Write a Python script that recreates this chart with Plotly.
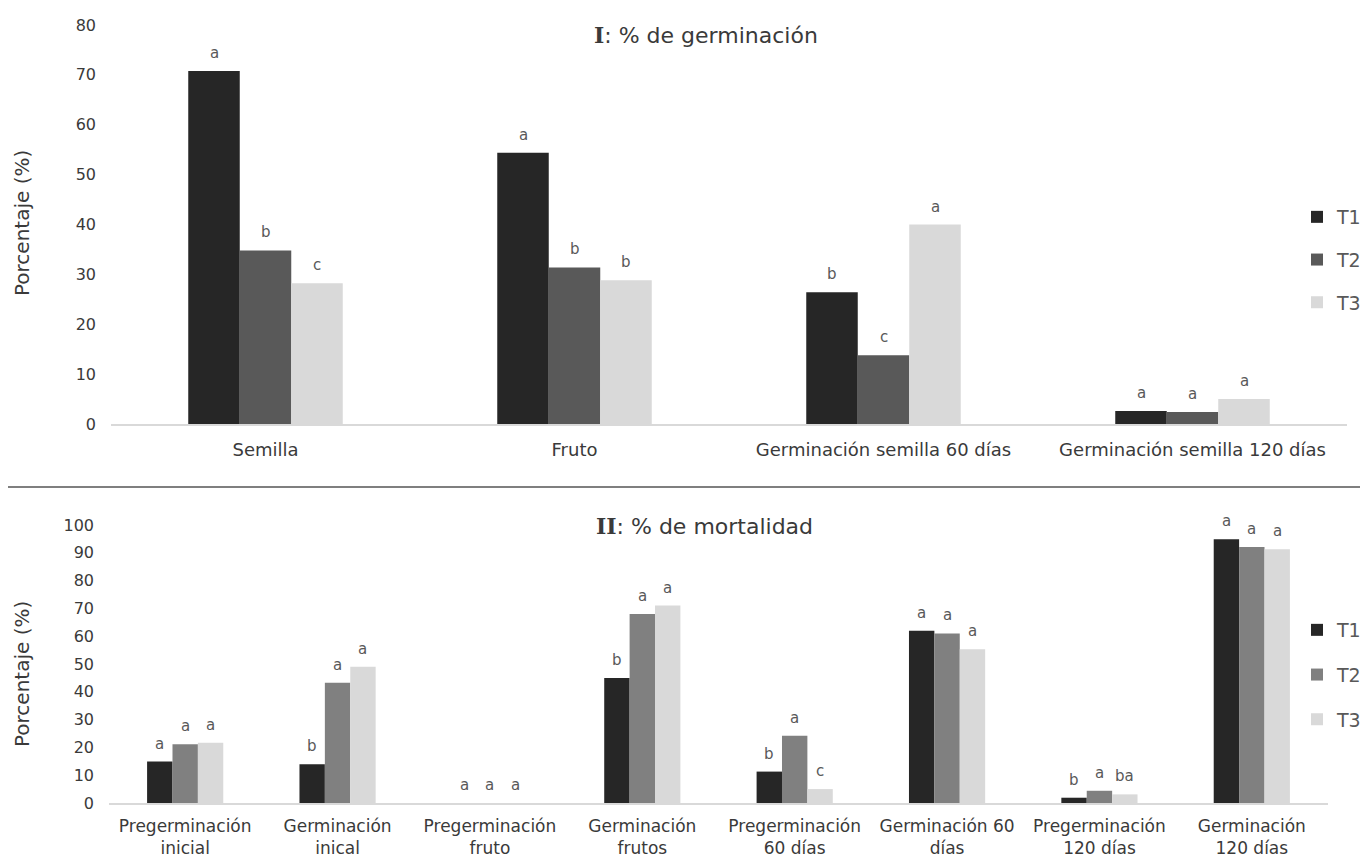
import plotly.graph_objects as go

# ---------------- data ----------------
series = ["T1", "T2", "T3"]

cats_top = ["Semilla", "Fruto", "Germinación semilla 60 días", "Germinación semilla 120 días"]
top_t1 = [70.8, 54.4, 26.4, 2.6]
top_t2 = [34.8, 31.4, 13.8, 2.4]
top_t3 = [28.2, 28.8, 40.0, 5.0]
top_let_t1 = ["a", "a", "b", "a"]
top_let_t2 = ["b", "b", "c", "a"]
top_let_t3 = ["c", "b", "a", "a"]

cats_bot = ["Pregerminación<br>inicial", "Germinación<br>inical", "Pregerminación<br>fruto",
            "Germinación<br>frutos", "Pregerminación<br>60 días", "Germinación 60<br>días",
            "Pregerminación<br>120 días", "Germinación<br>120 días"]
bot_t1 = [14.9, 13.9, 0, 45.0, 11.3, 62.0, 1.9, 94.9]
bot_t2 = [21.1, 43.3, 0, 68.0, 24.2, 61.0, 4.4, 92.1]
bot_t3 = [21.7, 49.0, 0, 71.0, 5.0, 55.3, 3.1, 91.3]
bot_let_t1 = ["a", "b", "a", "b", "b", "a", "b", "a"]
bot_let_t2 = ["a", "a", "a", "a", "a", "a", "a", "a"]
bot_let_t3 = ["a", "a", "a", "a", "c", "a", "ba", "a"]

top_ticks = [0, 10, 20, 30, 40, 50, 60, 70, 80]
bot_ticks = [0, 10, 20, 30, 40, 50, 60, 70, 80, 90, 100]

# ---------------- style ----------------
FONT = "DejaVu Sans"
TXT = "#3a3a3a"
top_colors = ["#262626", "#595959", "#d9d9d9"]
bot_colors = ["#262626", "#808080", "#d9d9d9"]
BARGAP = 0.5

# page body has an 8px margin: the figure is drawn at (8, 8)
OFF = 8
W, H = 1368 - OFF, 859 - OFF
def px_x(p):
    return (p - OFF) / W
def px_y(p):
    return 1 - (p - OFF) / H

fig = go.Figure()

top_vals = [top_t1, top_t2, top_t3]
bot_vals = [bot_t1, bot_t2, bot_t3]
top_lets = [top_let_t1, top_let_t2, top_let_t3]
bot_lets = [bot_let_t1, bot_let_t2, bot_let_t3]

for i, s in enumerate(series):
    fig.add_trace(go.Bar(x=cats_top, y=top_vals[i], name=s, marker_color=top_colors[i],
                         marker_line_width=0, xaxis="x", yaxis="y",
                         legend="legend", legendgroup="a" + s))
for i, s in enumerate(series):
    fig.add_trace(go.Bar(x=cats_bot, y=bot_vals[i], name=s, marker_color=bot_colors[i],
                         marker_line_width=0, xaxis="x2", yaxis="y2",
                         legend="legend2", legendgroup="b" + s))

annotations = []
w = (1 - BARGAP) / 3
lab_font = dict(family=FONT, size=15, color="#595959")
for i in range(3):
    for j, c in enumerate(cats_top):
        annotations.append(dict(x=j + (i - 1) * w, y=top_vals[i][j], xref="x", yref="y",
                                text=top_lets[i][j], showarrow=False, yshift=18,
                                yanchor="middle", font=lab_font))
    for j, c in enumerate(cats_bot):
        annotations.append(dict(x=j + (i - 1) * w, y=bot_vals[i][j], xref="x2", yref="y2",
                                text=bot_lets[i][j], showarrow=False, yshift=18,
                                yanchor="middle", font=lab_font))

title_font = dict(family=FONT, size=22, color=TXT)
annotations.append(dict(x=px_x(706), y=px_y(35), xref="paper", yref="paper", showarrow=False,
                        text="<span style='font-family:DejaVu Serif;font-weight:bold'>I</span>: % de germinación",
                        font=title_font, xanchor="center", yanchor="middle"))
annotations.append(dict(x=px_x(704), y=px_y(526), xref="paper", yref="paper", showarrow=False,
                        text="<span style='font-family:DejaVu Serif;font-weight:bold'>II</span>: % de mortalidad",
                        font=title_font, xanchor="center", yanchor="middle"))
ytitle_font = dict(family=FONT, size=20, color=TXT)
annotations.append(dict(x=px_x(22), y=px_y(223), xref="paper", yref="paper", showarrow=False,
                        text="Porcentaje (%)", textangle=-90,
                        font=ytitle_font, xanchor="center", yanchor="middle"))
annotations.append(dict(x=px_x(22), y=px_y(674), xref="paper", yref="paper", showarrow=False,
                        text="Porcentaje (%)", textangle=-90,
                        font=ytitle_font, xanchor="center", yanchor="middle"))

axis_common = dict(showgrid=False, zeroline=False, ticks="", automargin=False, showline=False,
                   ticklabelstandoff=14, tickfont=dict(family=FONT, size=16, color=TXT))
xline = dict(showline=True, linecolor="#d9d9d9", linewidth=1.5, ticks="", showgrid=False,
             zeroline=False, automargin=False)

leg_font = dict(family=FONT, size=19, color="#595959")

fig.update_layout(
    width=W, height=H,
    margin=dict(l=0, r=0, t=0, b=0, pad=0, autoexpand=False),
    paper_bgcolor="white", plot_bgcolor="white",
    barmode="group", bargap=BARGAP, bargroupgap=0,
    font=dict(family=FONT, color=TXT),
    xaxis=dict(domain=[px_x(111), px_x(1347)], anchor="y", ticklabelstandoff=9,
               tickfont=dict(family=FONT, size=18, color=TXT), **xline),
    yaxis=dict(domain=[px_y(424), px_y(25)], anchor="x", range=[0, 80], tickvals=top_ticks,
               **axis_common),
    xaxis2=dict(domain=[px_x(109), px_x(1328)], anchor="y2", ticklabelstandoff=7,
                tickfont=dict(family=FONT, size=17, color=TXT), **xline),
    yaxis2=dict(domain=[px_y(803), px_y(525)], anchor="x2", range=[0, 100], tickvals=bot_ticks,
                **axis_common),
    legend=dict(x=px_x(1297), y=px_y(260), xanchor="left", yanchor="middle",
                font=leg_font, tracegroupgap=15, bgcolor="rgba(0,0,0,0)"),
    legend2=dict(x=px_x(1297), y=px_y(675), xanchor="left", yanchor="middle",
                 font=leg_font, tracegroupgap=17, bgcolor="rgba(0,0,0,0)"),
    annotations=annotations,
    shapes=[dict(type="line", xref="paper", yref="paper", x0=0, x1=1, y0=px_y(487), y1=px_y(487),
                 line=dict(color="#7f7f7f", width=2))],
)

fig.write_html("out.html")
